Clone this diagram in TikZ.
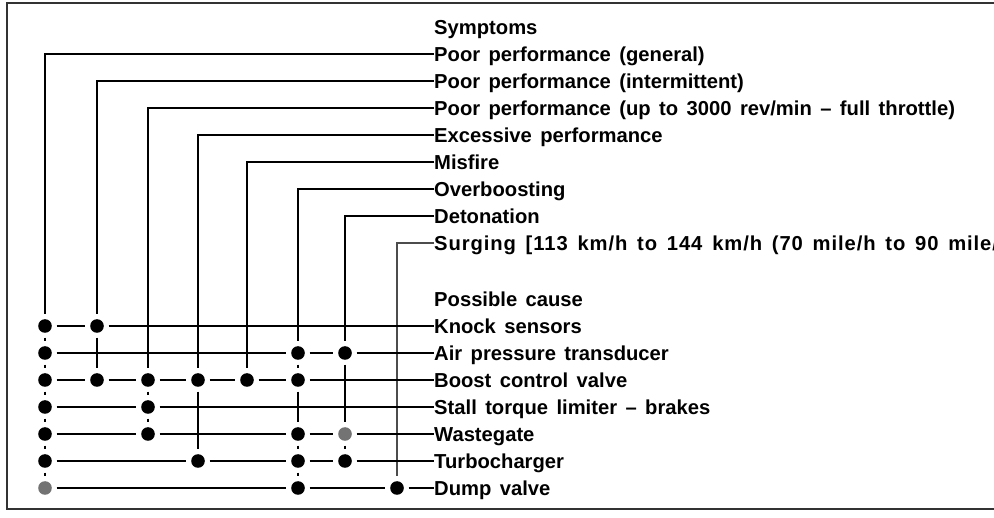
\documentclass[tikz,border=0pt]{standalone}
\usepackage{fontspec}
\setmainfont{Liberation Sans}[WordSpace=1.5]
\begin{document}
\begin{tikzpicture}[x=1pt,y=-1pt,
  lbl/.style={anchor=west,inner sep=0pt,text height=14.5pt,text depth=0pt,
    font=\fontsize{20.2}{24}\selectfont\bfseries},
  jdot/.style={circle,minimum size=23pt,inner sep=0pt,
    path picture={\fill[#1] (path picture bounding box.center) circle (6.8pt);}},
  jdot/.default=black,
  wire/.style={line width=2.2pt,line join=miter,draw=black},
  frame/.style={line width=2pt,draw=black!80}]
\useasboundingbox (0,0) rectangle (994,518);
% frame
\draw[frame] (994,3) -- (7,3) -- (7,509) -- (994,509);

% headers
\node[lbl] (hs) at (434,27) {Symptoms};
\node[lbl] (hc) at (434,299) {Possible cause};

% symptoms
\node[lbl] (s1) at (434,54)  {Poor performance (general)};
\node[lbl] (s2) at (434,81)  {Poor performance (intermittent)};
\node[lbl] (s3) at (434,108) {Poor performance (up to 3000 rev/min -- full throttle)};
\node[lbl] (s4) at (434,135) {Excessive performance};
\node[lbl] (s5) at (434,162) {Misfire};
\node[lbl] (s6) at (434,189) {Overboosting};
\node[lbl] (s7) at (434,216) {Detonation};
\node[lbl] (s8) at (434,243) {\addfontfeatures{LetterSpace=4.5}Surging [113 km/h to 144 km/h (70 mile/h to 90 mile/};

% causes
\node[lbl] (r1) at (434,326) {Knock sensors};
\node[lbl] (r2) at (434,353) {Air pressure transducer};
\node[lbl] (r3) at (434,380) {Boost control valve};
\node[lbl] (r4) at (434,407) {Stall torque limiter -- brakes};
\node[lbl] (r5) at (434,434) {Wastegate};
\node[lbl] (r6) at (434,461) {Turbocharger};
\node[lbl] (r7) at (434,488) {Dump valve};

% column corners
\coordinate (t1) at (45,54);
\coordinate (t2) at (97,81);
\coordinate (t3) at (148,108);
\coordinate (t4) at (198,135);
\coordinate (t5) at (247,162);
\coordinate (t6) at (298,189);
\coordinate (t7) at (345,216);
\coordinate (t8) at (397,243);

% dots: d<col><row>
\node[jdot] (d11) at (45,326) {};
\node[jdot] (d12) at (45,353) {};
\node[jdot] (d13) at (45,380) {};
\node[jdot] (d14) at (45,407) {};
\node[jdot] (d15) at (45,434) {};
\node[jdot] (d16) at (45,461) {};
\node[jdot=black!55] (d17) at (45,488) {};
\node[jdot] (d21) at (97,326) {};
\node[jdot] (d23) at (97,380) {};
\node[jdot] (d33) at (148,380) {};
\node[jdot] (d34) at (148,407) {};
\node[jdot] (d35) at (148,434) {};
\node[jdot] (d43) at (198,380) {};
\node[jdot] (d46) at (198,461) {};
\node[jdot] (d53) at (247,380) {};
\node[jdot] (d62) at (298,353) {};
\node[jdot] (d63) at (298,380) {};
\node[jdot] (d65) at (298,434) {};
\node[jdot] (d66) at (298,461) {};
\node[jdot] (d67) at (298,488) {};
\node[jdot] (d72) at (345,353) {};
\node[jdot=black!55] (d75) at (345,434) {};
\node[jdot] (d76) at (345,461) {};
\node[jdot] (d87) at (397,488) {};

% symptom columns
\draw[wire] (s1.west) -- (t1) -- (d11) -- (d12) -- (d13) -- (d14) -- (d15) -- (d16) -- (d17);
\draw[wire] (s2.west) -- (t2) -- (d21) -- (d23);
\draw[wire] (s3.west) -- (t3) -- (d33) -- (d34) -- (d35);
\draw[wire] (s4.west) -- (t4) -- (d43) -- (d46);
\draw[wire] (s5.west) -- (t5) -- (d53);
\draw[wire] (s6.west) -- (t6) -- (d62) -- (d63) -- (d65) -- (d66) -- (d67);
\draw[wire] (s7.west) -- (t7) -- (d72) -- (d75) -- (d76);
\draw[wire,draw=black!70] (s8.west) -- (t8) -- (d87);

% cause rows
\draw[wire] (d11) -- (d21) -- (r1.west);
\draw[wire] (d12) -- (d62) -- (d72) -- (r2.west);
\draw[wire] (d13) -- (d23) -- (d33) -- (d43) -- (d53) -- (d63) -- (r3.west);
\draw[wire] (d14) -- (d34) -- (r4.west);
\draw[wire] (d15) -- (d35) -- (d65) -- (d75) -- (r5.west);
\draw[wire] (d16) -- (d46) -- (d66) -- (d76) -- (r6.west);
\draw[wire] (d17) -- (d67) -- (d87) -- (r7.west);
\end{tikzpicture}
\end{document}
